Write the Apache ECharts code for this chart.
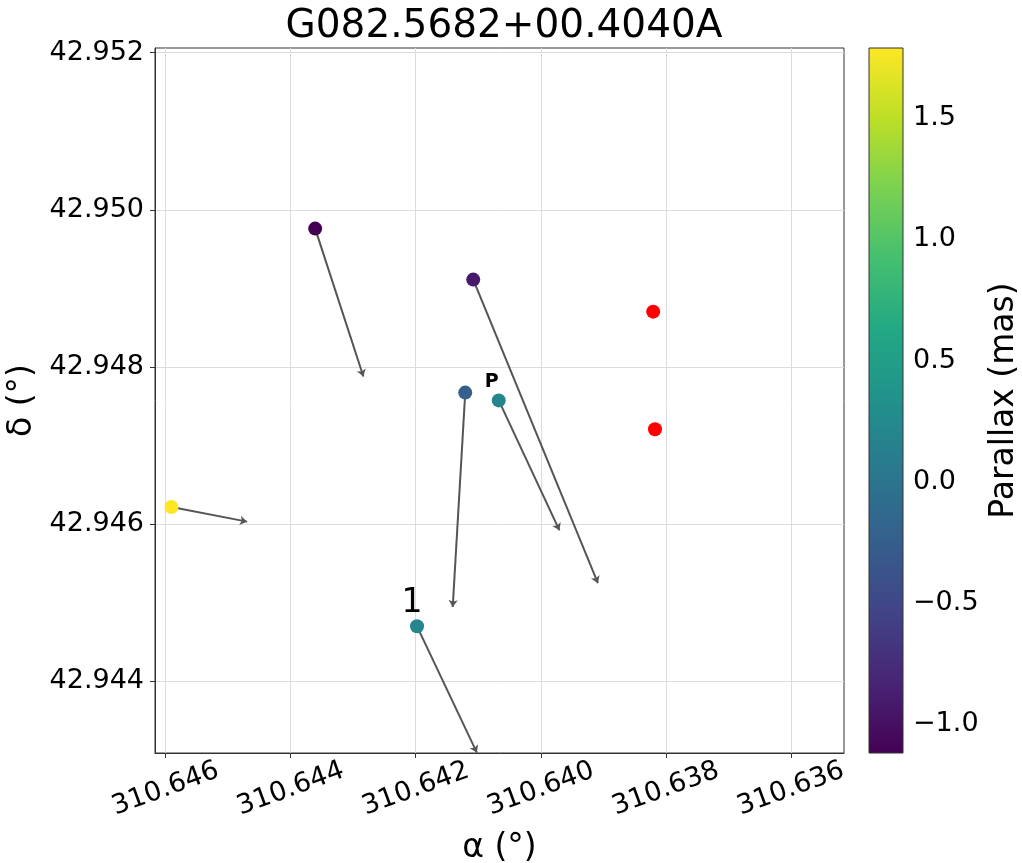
<!DOCTYPE html>
<html><head><meta charset="utf-8">
<script src="https://cdn.jsdelivr.net/npm/echarts@6/dist/echarts.min.js"></script>
<style>html,body{margin:0;padding:0;background:#fff}#c{width:1022px;height:863px}</style>
</head><body><div id="c"></div>
<script>
const chartTitle = 'G082.5682+00.4040A';
const raDeg    = [310.643608, 310.641080, 310.641208, 310.640672, 310.645907, 310.641979];
const decDeg   = [42.949762, 42.949113, 42.947675, 42.947576, 42.946220, 42.944701];
const parallax = [-1.12, -0.92, -0.25, 0.19, 1.79, 0.22];
const endRa    = [310.642837, 310.639086, 310.641408, 310.639701, 310.644699, 310.641022];
const endDec   = [42.947880, 42.945250, 42.944946, 42.945922, 42.946033, 42.943094];
const noPlxRa  = [310.638202, 310.638173];
const noPlxDec = [42.948705, 42.947208];
const annotText = ['P', '1'];
const annotIdx  = [3, 5];
const raTicks  = [310.646, 310.644, 310.642, 310.640, 310.638, 310.636];
const decTicks = [42.944, 42.946, 42.948, 42.950, 42.952];
const plxTicks = [-1.0, -0.5, 0.0, 0.5, 1.0, 1.5];
const raRange  = [310.63515, 310.64617];
const decRange = [42.943089, 42.95206];
const plxRange = [-1.12, 1.79];

const viridis = ['#440154','#482475','#414487','#355f8d','#2a788e','#21918c','#22a884','#44bf70','#7ad151','#bddf26','#fde725'];
const FONT = 'DejaVu Sans';
const minus = s => String(s).replace('-', '\u2212');

const pts = raDeg.map((r, i) => [r, decDeg[i], parallax[i]]);
const arrows = raDeg.map((r, i) => ({coords: [[r, decDeg[i]], [endRa[i], endDec[i]]]}));
const redPts = noPlxRa.map((r, i) => [r, noPlxDec[i]]);
const annotStyles = {
  'P': {fontSize: 19, fontWeight: 'bold', offset: [-7, -18]},
  '1': {fontSize: 33, fontWeight: 'normal', offset: [-5, -23]}
};
const annots = annotText.map((t, k) => {
  const i = annotIdx[k];
  const st = annotStyles[t];
  return {value: [raDeg[i], decDeg[i]], label: {show: true, formatter: t, position: 'inside',
    fontSize: st.fontSize, fontWeight: st.fontWeight, offset: st.offset, color: '#000',
    opacity: 1, textBorderWidth: 0, fontFamily: FONT}};
});

const stops = viridis.map((c, i) => ({offset: i / (viridis.length - 1), color: c}));

const chart = echarts.init(document.getElementById('c'), null, {renderer: 'canvas'});
chart.setOption({
  animation: false,
  backgroundColor: '#fff',
  textStyle: {fontFamily: FONT},
  title: {text: chartTitle, left: 499, top: 2, textAlign: 'center',
    textStyle: {fontFamily: FONT, fontSize: 39, fontWeight: 'normal', color: '#000'}},
  grid: [
    {left: 155, top: 48, width: 689, height: 705, show: true, borderColor: '#333', borderWidth: 1,
     backgroundColor: 'transparent', containLabel: false, outerBoundsMode: 'none'},
    {left: 869, top: 48, width: 34, height: 705, show: false, containLabel: false, outerBoundsMode: 'none'}
  ],
  xAxis: [
    {type: 'value', gridIndex: 0, inverse: true, min: raRange[0], max: raRange[1],
     name: 'α (°)', nameLocation: 'middle', nameGap: 79,
     nameTextStyle: {fontFamily: FONT, fontSize: 33, color: '#000'},
     axisLine: {show: true, onZero: false, lineStyle: {color: '#333'}},
     axisTick: {show: true, inside: false, length: 5, customValues: raTicks, lineStyle: {color: '#333'}},
     axisLabel: {customValues: raTicks, rotate: 20, align: 'center', verticalAlign: 'middle', margin: 36,
       fontFamily: FONT, fontSize: 27, color: '#000', formatter: v => v.toFixed(3)},
     splitLine: {show: true, lineStyle: {color: '#dcdcdc', width: 1}}},
    {type: 'value', gridIndex: 1, min: 0, max: 1, show: false}
  ],
  yAxis: [
    {type: 'value', gridIndex: 0, min: decRange[0], max: decRange[1],
     name: 'δ (°)', nameLocation: 'middle', nameGap: 97, nameRotate: 90,
     nameTextStyle: {fontFamily: FONT, fontSize: 33, color: '#000'},
     axisLine: {show: true, onZero: false, lineStyle: {color: '#333'}},
     axisTick: {show: true, inside: false, length: 5, customValues: decTicks, lineStyle: {color: '#333'}},
     axisLabel: {customValues: decTicks, margin: 11, fontFamily: FONT, fontSize: 27, color: '#000',
       formatter: v => v.toFixed(3)},
     splitLine: {show: true, lineStyle: {color: '#dcdcdc', width: 1}}},
    {type: 'value', gridIndex: 1, min: plxRange[0], max: plxRange[1], position: 'right',
     name: 'Parallax (mas)', nameLocation: 'middle', nameGap: 85, nameRotate: 90,
     nameTextStyle: {fontFamily: FONT, fontSize: 33, color: '#000'},
     axisLine: {show: false},
     axisTick: {show: true, inside: false, length: 5, customValues: plxTicks, lineStyle: {color: '#333'}},
     axisLabel: {customValues: plxTicks, margin: 10, fontFamily: FONT, fontSize: 27, color: '#000',
       formatter: v => minus(v.toFixed(1))},
     splitLine: {show: false}}
  ],
  visualMap: {type: 'continuous', show: false, min: plxRange[0], max: plxRange[1], dimension: 2,
    seriesIndex: 1, inRange: {color: viridis}},
  series: [
    {type: 'lines', coordinateSystem: 'cartesian2d', xAxisIndex: 0, yAxisIndex: 0, z: 2,
     symbol: ['none', 'arrow'], symbolSize: [0, 7],
     lineStyle: {color: '#555', width: 2, opacity: 1}, data: arrows},
    {type: 'scatter', xAxisIndex: 0, yAxisIndex: 0, z: 3, symbolSize: 14, data: pts,
     itemStyle: {opacity: 1}},
    {type: 'scatter', xAxisIndex: 0, yAxisIndex: 0, z: 3, symbolSize: 14, data: redPts,
     itemStyle: {color: '#ff0000', opacity: 1}},
    {type: 'scatter', xAxisIndex: 0, yAxisIndex: 0, z: 4, symbolSize: 0, data: annots, silent: true,
     itemStyle: {opacity: 1}},
    {type: 'custom', coordinateSystem: 'cartesian2d', xAxisIndex: 1, yAxisIndex: 1, z: 1,
     data: [[0, plxRange[0]]],
     renderItem: (params, api) => {
       const p0 = api.coord([0, plxRange[1]]);
       const p1 = api.coord([1, plxRange[0]]);
       return {type: 'rect', shape: {x: p0[0], y: p0[1], width: p1[0] - p0[0], height: p1[1] - p0[1]},
         style: {fill: new echarts.graphic.LinearGradient(0, 1, 0, 0, stops), stroke: '#333', lineWidth: 1}};
     }}
  ]
});
</script></body></html>
